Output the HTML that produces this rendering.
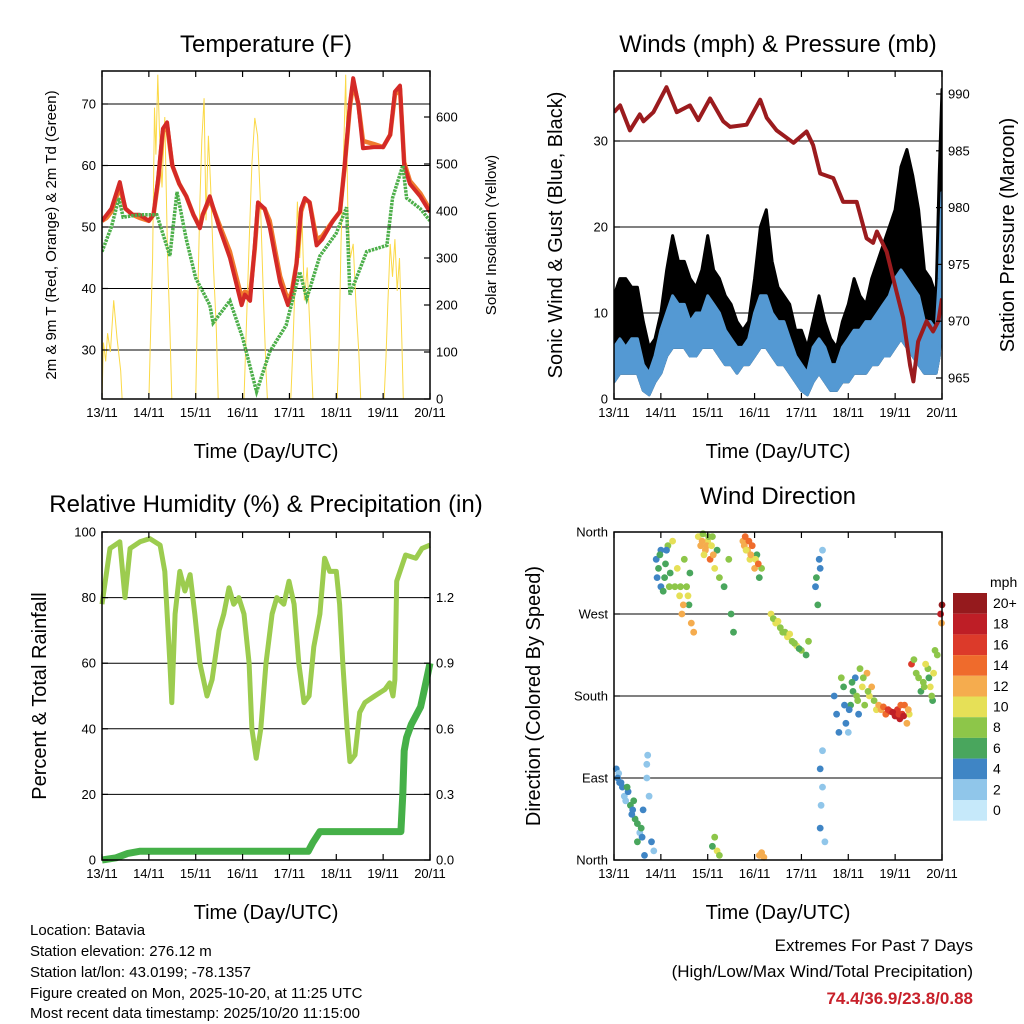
<!DOCTYPE html>
<html><head><meta charset="utf-8">
<style>
body{margin:0;background:#fff;}
svg{display:block;font-family:"Liberation Sans",sans-serif;}
</style></head>
<body>
<svg id="c" width="1024" height="1024" viewBox="0 0 1024 1024" xmlns="http://www.w3.org/2000/svg">
<rect width="1024" height="1024" fill="#fff"/>
<g id="g"></g>
<text x="30" y="935" font-size="15">Location: Batavia</text>
<text x="30" y="956" font-size="15">Station elevation: 276.12 m</text>
<text x="30" y="977" font-size="15">Station lat/lon: 43.0199; -78.1357</text>
<text x="30" y="998" font-size="15">Figure created on Mon, 2025-10-20, at 11:25 UTC</text>
<text x="30" y="1018" font-size="15">Most recent data timestamp: 2025/10/20 11:15:00</text>
<text x="973" y="951" font-size="17" text-anchor="end">Extremes For Past 7 Days</text>
<text x="973" y="977" font-size="17" text-anchor="end">(High/Low/Max Wind/Total Precipitation)</text>
<text x="973" y="1004" font-size="17" font-weight="bold" fill="#c8202a" text-anchor="end">74.4/36.9/23.8/0.88</text>
</svg>
<script>
// ---------- data ----------
const dayLabels=["13/11","14/11","15/11","16/11","17/11","18/11","19/11","20/11"];
const tempT=[0,0.1,0.2,0.38,0.5,0.65,0.8,1.0,1.1,1.2,1.3,1.39,1.5,1.65,1.8,1.95,2.09,2.15,2.3,2.5,2.73,2.98,3.05,3.16,3.26,3.33,3.47,3.58,3.7,3.8,3.97,4.05,4.15,4.25,4.33,4.43,4.58,4.7,4.93,5.08,5.18,5.29,5.36,5.47,5.57,5.8,6.0,6.15,6.25,6.36,6.45,6.57,6.79,7.0];
const temp2m=[51,52,53,57.3,53,52,52,51,52,58,66,67,60,57,55,52,49.8,52,55,50,45,37.3,39,38,47,54,53,50,45,41,37.3,39,44,53,54.7,54,47,48,51,52.5,60,70,74.2,70,62.8,63,63,65,72,73,60,57,55,52.4];
const temp9m=[51,51.5,52.5,56.5,53,52,51.5,51,52,57.5,65.5,66.5,60,57,55,52,50,52,54.5,50.5,46,38.5,39.5,39,46.5,53.5,53,51,46,42,38,39.5,44,52.5,54.5,54,48,48.5,51,52.5,60,69.5,73.5,70,64,63.5,63,65,71.5,72.5,60.5,57.5,55.5,52.8];
const dewT=[0,0.2,0.36,0.45,0.8,1.17,1.45,1.6,1.8,2.0,2.3,2.37,2.73,3.0,3.3,3.58,3.93,4.22,4.37,4.65,5.0,5.22,5.29,5.65,6.08,6.2,6.42,6.5,6.79,7.0];
const dewPt=[46,50,54.7,51.6,52,52,45.3,55.7,48,41.7,37.3,34.4,38,32,23.2,29.7,34,42.7,38.4,45.3,49,53.2,39,46,47,54.7,60,54.7,53,51];
const solT=[0,0.03,0.08,0.12,0.18,0.25,0.32,0.4,0.43, 1.0,1.04,1.08,1.12,1.15,1.19,1.23,1.28,1.34,1.4,1.45,1.49, 2.0,2.04,2.09,2.13,2.18,2.22,2.27,2.32,2.38,2.44,2.48, 3.03,3.08,3.14,3.2,3.26,3.32,3.38,3.44,3.5,3.53, 4.03,4.07,4.12,4.17,4.22,4.27,4.32,4.38,4.45,4.5, 5.02,5.06,5.1,5.15,5.2,5.25,5.3,5.36,5.42,5.48,5.52, 6.02,6.06,6.1,6.15,6.2,6.25,6.3,6.35,6.4,6.43, 7.0];
const solVal=[0,120,80,140,100,210,130,60,0, 0,150,300,620,520,690,560,450,600,300,150,0, 0,200,420,550,640,380,560,450,280,150,0, 0,150,330,500,598,560,420,230,60,0, 0,100,250,420,300,380,210,280,120,0, 0,120,330,500,690,380,300,330,200,100,0, 0,90,200,330,260,340,230,300,120,0, 0];
const windT=[0,0.125,0.25,0.375,0.5,0.625,0.75,0.875,1.0,1.125,1.25,1.375,1.5,1.625,1.75,1.875,2.0,2.125,2.25,2.375,2.5,2.625,2.75,2.875,3.0,3.125,3.25,3.375,3.5,3.625,3.75,3.875,4.0,4.125,4.25,4.375,4.5,4.625,4.75,4.875,5.0,5.125,5.25,5.375,5.5,5.625,5.75,5.875,6.0,6.125,6.25,6.375,6.5,6.625,6.75,6.875,6.94,7.0];
const windLo=[2,3,3,3,3,1,0.5,2,3,5,6,6,6,5,5,6,6,6,5,4,4,3,4,4,5,6,6,5,4,4,3,2,1,0.5,2,3,2,1,1,2,2,3,3,3,4,4,5,5,6,7,6,5,4,3,3,3,5,10];
const windHi=[6,7,6,7,7,4,3,5,8,10,12,11,11,9,10,10,12,11,10,8,7,6,6,7,10,12,12,10,9,9,7,5,4,3,6,7,6,4,4,6,7,8,8,9,9,10,11,12,14,15,14,13,12,9,9,8,14,24];
const gustHi=[12,14,14,13,13,9,6,7,10,15,19,16,16,14,13,15,19,15,14,12,11,9,8,9,14,20,22,16,13,12,11,8,8,6,9,12,9,7,6,9,11,14,12,11,14,16,18,20,22,27,29,26,22,15,14,12,26,36];
const presT=[0,0.13,0.34,0.55,0.63,0.84,1.12,1.34,1.62,1.8,2.05,2.33,2.48,2.83,3.12,3.26,3.47,3.83,4.11,4.25,4.4,4.68,4.89,5.18,5.39,5.53,5.61,5.82,6.03,6.17,6.32,6.39,6.49,6.67,6.81,6.92,7.0];
const presVal=[988.4,989.0,986.8,988.2,987.6,988.4,990.6,988.4,989.0,987.7,989.6,987.6,987.1,987.3,989.5,987.9,986.8,985.7,986.7,985.5,983.0,982.6,980.5,980.5,977.3,976.9,977.9,976.1,972.6,970.3,966.1,964.7,968.2,970.0,969.1,970.0,972.0];
const rhT=[0,0.17,0.38,0.49,0.6,0.81,1.02,1.24,1.34,1.45,1.49,1.56,1.66,1.77,1.88,1.98,2.09,2.24,2.35,2.5,2.6,2.71,2.81,2.92,3.03,3.14,3.2,3.29,3.39,3.5,3.63,3.73,3.88,3.99,4.1,4.2,4.31,4.42,4.52,4.65,4.75,4.86,5.0,5.07,5.14,5.23,5.29,5.4,5.5,5.61,5.82,6.04,6.14,6.21,6.25,6.29,6.48,6.7,6.83,7.0];
const rhVal=[78,95,97,80,95,97,98,96,88,60,48,75,88,82,87,75,60,50,55,70,75,83,78,80,75,60,40,31,40,60,75,80,78,85,78,60,48,50,65,75,92,88,88,78,60,40,30,32,45,48,50,52,54,50,55,85,93,92,95,96];
const prT=[0,0.3,0.55,0.8,4.4,4.5,4.65,6.38,6.42,6.45,6.5,6.6,6.7,6.8,6.85,6.95,7.0];
const prVal=[0,0.01,0.03,0.04,0.04,0.08,0.13,0.13,0.3,0.5,0.56,0.62,0.66,0.7,0.75,0.85,0.9];
const dirT=[0.05,0.1,0.12,0.18,0.22,0.3,0.35,0.4,0.45,0.5,0.55,0.6,0.7,0.75,0.8,0.85,0.5,0.65,0.72,0.7,
0.9,0.95,1.0,1.0,1.05,1.1,1.15,1.2,1.25,1.3,1.4,1.45,1.5,1.55,1.6,1.65,1.7,
1.8,1.85,1.9,1.95,2.0,2.05,2.1,2.15,2.2,2.25,2.35,2.45,2.5,2.55,
2.75,2.8,2.85,2.9,2.95,3.0,3.05,3.1,3.15,2.15,2.2,2.25,2.1,3.1,3.15,3.2,
3.35,3.45,3.55,3.6,3.7,3.8,3.9,4.0,4.1,4.15,4.3,4.35,4.4,4.45,4.4,4.45,4.42,4.4,4.5,4.45,
4.7,4.75,4.8,4.85,4.95,5.0,5.05,5.1,5.15,5.2,5.25,5.3,5.35,5.4,5.45,5.5,5.55,5.6,5.65,
5.7,5.8,5.9,6.0,6.05,6.1,6.15,6.2,6.25,6.3,6.35,6.4,6.5,6.55,6.6,6.7,6.75,6.8,6.85,6.97,7.0,6.99,
0.08,0.15,0.25,0.28,0.38,0.42,0.58,0.62,0.92,0.98,1.08,1.12,1.18,1.35,1.42,1.48,1.58,1.62,1.88,1.92,1.98,2.02,2.08,2.12,2.78,2.82,2.88,2.92,3.02,3.08,3.4,3.5,3.65,3.75,3.85,3.95,4.32,4.38,4.9,4.92,5.02,5.08,5.18,5.22,5.32,5.42,5.75,5.85,5.95,6.08,6.12,6.18,6.28,6.45,6.62,6.65,6.72,6.78,6.82,6.9];
const dirDeg=[100,95,85,80,70,75,60,55,45,40,30,25,90,70,20,10,20,5,115,105,
330,320,340,300,295,325,345,315,350,300,290,270,330,300,280,260,250,
355,345,358,340,350,330,355,320,340,310,300,330,270,250,
350,355,340,330,345,320,335,310,320,25,10,5,15,5,8,3,
270,260,255,250,245,240,235,230,225,240,300,280,320,340,100,80,60,35,20,120,
180,160,140,200,150,140,170,185,200,175,210,190,170,205,180,190,175,165,170,
165,160,163,158,165,155,160,170,150,160,215,220,200,185,195,210,190,175,230,270,280,260,
90,85,65,80,50,65,35,55,310,335,310,340,300,320,300,280,290,315,350,335,345,355,345,335,345,340,350,335,330,325,265,262,250,248,238,232,310,330,190,170,165,195,180,160,200,185,168,165,162,160,170,158,165,205,190,215,200,180,205,225];
const dirSpd=[4,2,4,4,2,4,6,4,6,6,2,4,2,2,4,2,6,4,2,2,
4,6,4,4,6,6,8,6,10,8,10,12,8,8,6,12,12,
10,12,8,12,10,14,8,10,6,8,6,8,6,6,
12,14,12,10,14,12,6,6,8,8,10,8,6,12,12,12,
10,10,8,8,10,8,10,8,6,8,4,6,4,2,4,2,2,4,2,2,
4,4,4,8,4,2,6,6,4,8,8,10,8,12,10,12,8,10,12,
12,14,16,18,16,18,16,14,12,10,16,8,8,6,8,8,10,6,8,18,20,12,
4,4,2,6,4,6,6,4,4,6,6,4,8,10,8,12,10,6,12,10,12,8,10,12,12,10,14,12,10,14,8,10,8,10,8,6,6,4,6,4,4,6,8,4,8,8,14,16,18,16,14,18,12,8,8,10,6,8,10,8];
const cbLabels=["20+","18","16","14","12","10","8","6","4","2","0"];
const cbColors=["#c6e9fa","#90c6ea","#3f85c5","#49a65d","#8dc649","#e6e057","#f5ac4e","#ef6b2c","#dc3a2a","#be1e26","#951a1d"];

// ---------- helpers ----------
const NS="http://www.w3.org/2000/svg";
const root=document.getElementById('g');
function mk(tag,attrs,parent){const e=document.createElementNS(NS,tag);for(const k in attrs)e.setAttribute(k,attrs[k]);(parent||root).appendChild(e);return e;}
function txt(s,x,y,size,anchor,rot){const e=mk('text',{x:x,y:y,'font-size':size,'text-anchor':anchor||'middle'});if(rot)e.setAttribute('transform','rotate(-90 '+x+' '+y+')');e.textContent=s;return e;}
function lin(d0,d1,p0,p1){return v=>p0+(v-d0)/(d1-d0)*(p1-p0);}

function frame(P){
  const X=P.X;
  for(let i=0;i<=7;i++){
    const x=X(i);
    const t=mk('line',{x1:x,y1:P.b,x2:x,y2:P.b-6,stroke:'#000','stroke-width':1.2});
    
    const t2=mk('line',{x1:x,y1:P.t,x2:x,y2:P.t+6,stroke:'#000','stroke-width':1.2});
    
    const l=txt(dayLabels[i],x,P.b+18,13);
    
  }
  const xt=txt('Time (Day/UTC)',(P.l+P.r)/2,P.b+59,20);
  
}
function border(P){
  const r=mk('rect',{x:P.l,y:P.t,width:P.r-P.l,height:P.b-P.t,fill:'none',stroke:'#000','stroke-width':1.5});
  
}
function grid(P,vals,Y){
  vals.forEach(v=>{const g=mk('line',{x1:P.l,x2:P.r,y1:Y(v),y2:Y(v),stroke:'#000','stroke-width':1});
    });
}
function yTicks(P,vals,labels,Y,side){
  vals.forEach((v,i)=>{
    const y=Y(v);const x=side==='l'?P.l:P.r;
    const tk=mk('line',{x1:x,x2:side==='l'?x+6:x-6,y1:y,y2:y,stroke:'#000','stroke-width':1.2});
    
    const l=txt(labels[i],side==='l'?x-6:x+6,y+4.5,13,side==='l'?'end':'start');
    
  });
}
function path(ts,vs,X,Y,attrs,name){
  let d='';ts.forEach((t,i)=>{d+=(i?'L':'M')+X(t).toFixed(1)+' '+Y(vs[i]).toFixed(1);});
  const p=mk('path',Object.assign({d:d,fill:'none'},attrs));
  
  
  return p;
}
function band(ts,lo,hi,X,Y,fill,name){
  let d='';ts.forEach((t,i)=>{d+=(i?'L':'M')+X(t).toFixed(1)+' '+Y(hi[i]).toFixed(1);});
  for(let i=ts.length-1;i>=0;i--)d+='L'+X(ts[i]).toFixed(1)+' '+Y(lo[i]).toFixed(1);
  const p=mk('path',{d:d+'Z',fill:fill,stroke:fill,'stroke-width':3,'stroke-linejoin':'round'});
  
  
  return p;
}

// ---------- Panel 1: temperature ----------
{
const P={l:102,r:430,t:71,b:399};P.X=lin(0,7,P.l,P.r);
const Y=lin(30,70,350,104);const Y2=lin(0,600,399,117);
const ti=txt('Temperature (F)',266,52,24);
grid(P,[30,40,50,60,70],Y);
const cp=mk('clipPath',{id:'cp1'});mk('rect',{x:P.l,y:P.t,width:P.r-P.l,height:P.b-P.t},cp);
const g=mk('g',{'clip-path':'url(#cp1)'});
g.appendChild(path(solT,solVal,P.X,Y2,{stroke:'#fbd947','stroke-width':1},'solar-insolation-line'));
g.appendChild(path(tempT,temp9m,P.X,Y,{stroke:'#f07b2e','stroke-width':4.5,'stroke-linejoin':'round'},'temp-9m-line'));
g.appendChild(path(tempT,temp2m,P.X,Y,{stroke:'#d42a27','stroke-width':4,'stroke-linejoin':'round'},'temp-2m-line'));
g.appendChild(path(dewT,dewPt,P.X,Y,{stroke:'#4daf4a','stroke-width':3.5,'stroke-dasharray':'2.5 1'},'dewpoint-line'));
border(P);frame(P);
yTicks(P,[30,40,50,60,70],['30','40','50','60','70'],Y,'l');
yTicks(P,[0,100,200,300,400,500,600],['0','100','200','300','400','500','600'],Y2,'r');
const yl=txt('2m & 9m T (Red, Orange) & 2m Td (Green)',56,235,15,'middle',true);
const yr=txt('Solar Insolation (Yellow)',496,235,15,'middle',true);
}

// ---------- Panel 2: winds ----------
{
const P={l:614,r:942,t:71,b:399};P.X=lin(0,7,P.l,P.r);
const Y=lin(0,30,399,141);const Y2=lin(965,990,378,94);
const ti=txt('Winds (mph) & Pressure (mb)',778,52,24);
grid(P,[10,20,30],Y);
const cp=mk('clipPath',{id:'cp2'});mk('rect',{x:P.l,y:P.t,width:P.r-P.l,height:P.b-P.t},cp);
const g=mk('g',{'clip-path':'url(#cp2)'});
g.appendChild(band(windT,windLo,gustHi,P.X,Y,'#000','wind-gust-band'));
g.appendChild(band(windT,windLo,windHi,P.X,Y,'#5499d3','wind-speed-band'));
g.appendChild(path(presT,presVal,P.X,Y2,{stroke:'#9b1b1e','stroke-width':4,'stroke-linejoin':'round'},'pressure-line'));
border(P);frame(P);
yTicks(P,[0,10,20,30],['0','10','20','30'],Y,'l');
yTicks(P,[965,970,975,980,985,990],['965','970','975','980','985','990'],Y2,'r');
const yl=txt('Sonic Wind & Gust (Blue, Black)',562,235,20,'middle',true);
const yr=txt('Station Pressure (Maroon)',1014,235,20,'middle',true);
}

// ---------- Panel 3: RH & precip ----------
{
const P={l:102,r:430,t:532,b:860};P.X=lin(0,7,P.l,P.r);
const Y=lin(0,100,860,532);const Y2=lin(0,1.5,860,532);
const ti=txt('Relative Humidity (%) & Precipitation (in)',266,512,24);
grid(P,[20,40,60,80],Y);
const cp=mk('clipPath',{id:'cp3'});mk('rect',{x:P.l-4,y:P.t,width:P.r-P.l+8,height:P.b-P.t+4},cp);
const g=mk('g',{'clip-path':'url(#cp3)'});
g.appendChild(path(rhT,rhVal,P.X,Y,{stroke:'#9ccc4f','stroke-width':5,'stroke-linejoin':'round'},'humidity-line'));
g.appendChild(path(prT,prVal,P.X,Y2,{stroke:'#45b048','stroke-width':7,'stroke-linejoin':'round'},'precip-line'));
border(P);frame(P);
yTicks(P,[0,20,40,60,80,100],['0','20','40','60','80','100'],Y,'l');
yTicks(P,[0,0.3,0.6,0.9,1.2],['0.0','0.3','0.6','0.9','1.2'],Y2,'r');
const yl=txt('Percent & Total Rainfall',46,696,20,'middle',true);
}

// ---------- Panel 4: wind direction ----------
{
const P={l:614,r:942,t:532,b:860};P.X=lin(0,7,P.l,P.r);
const Y=lin(0,360,860,532);
const ti=txt('Wind Direction',778,504,24);
grid(P,[90,180,270],Y);
const g=mk('g',{});
dirT.forEach((t,i)=>{
  const k=Math.min(10,Math.floor(dirSpd[i]/2));
  const c=mk('circle',{cx:P.X(t).toFixed(1),cy:Y(dirDeg[i]).toFixed(1),r:3.4,fill:cbColors[k]},g);
  
  
});
border(P);frame(P);
yTicks(P,[0,90,180,270,360],['North','East','South','West','North'],Y,'l');
const yl=txt('Direction (Colored By Speed)',540,696,20,'middle',true);
const cbTop=593,cbH=20.7;
cbLabels.forEach((lab,i)=>{
  const col=cbColors[10-i];
  const r=mk('rect',{x:953,y:(cbTop+i*cbH).toFixed(1),width:34,height:cbH.toFixed(1),fill:col});
  
  
  const l=txt(lab,993,cbTop+i*cbH+15,14,'start');
  
  
});
const mph=txt('mph',990,587,14,'start');
}
</script>
</body></html>
